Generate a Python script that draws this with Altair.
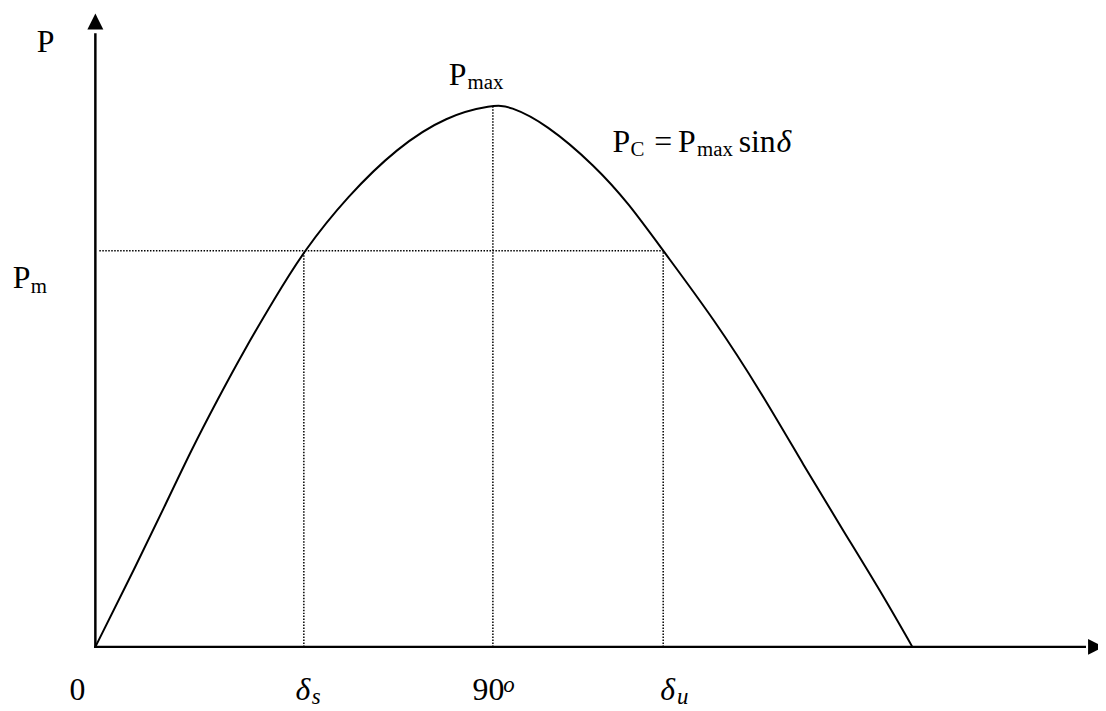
import altair as alt
import pandas as pd

# ---- data (delta in degrees, P in units of Pmax) ----
curve_delta = [0, 9.66, 15.73, 21.80, 27.64, 33.71, 40.46, 47.20, 57.09, 68.32, 79.56, 90.0,
               93.72, 102.04, 113.27, 120.69, 128.56, 140.25, 150.81, 160.47, 169.46, 177.78, 184.97]
curve_p = [0, 0.1575, 0.2601, 0.3645, 0.4560, 0.5476, 0.6410, 0.7308, 0.8315, 0.9212, 0.9799, 1.0,
           0.9982, 0.9652, 0.8864, 0.8187, 0.7308, 0.6026, 0.4689, 0.3333, 0.2125, 0.1026, 0]

delta_s = 47.2
delta_90 = 90.0
delta_u = 128.56
p_m = 0.731
p_max = 1.0

# plot extents
x_max = 227.0
y_max = 1.1685
x_arrow = 228.35

FONT = "Liberation Serif"

xs = alt.Scale(domain=[0, x_max], nice=False, zero=False)
ys = alt.Scale(domain=[0, y_max], nice=False, zero=False)

curve_df = pd.DataFrame({"x": curve_delta, "y": curve_p})

curve = alt.Chart(curve_df).mark_line(
    color="black", strokeWidth=2, interpolate="basis"
).encode(
    x=alt.X("x:Q", scale=xs, axis=None),
    y=alt.Y("y:Q", scale=ys, axis=None),
)

dotted_df = pd.DataFrame({
    "x": [0.9, delta_s, delta_90, delta_u],
    "x2": [delta_u, delta_s, delta_90, delta_u],
    "y": [p_m, 0, 0, 0],
    "y2": [p_m, p_m, p_max, p_m],
})
dotted = alt.Chart(dotted_df).mark_rule(
    color="black", strokeWidth=1.5, strokeDash=[1.5, 1.5]
).encode(
    x=alt.X("x:Q", scale=xs, axis=None), x2="x2:Q",
    y=alt.Y("y:Q", scale=ys, axis=None), y2="y2:Q",
)

axes_df = pd.DataFrame({"x": [0, 0], "x2": [224.0, 0], "y": [0, 0], "y2": [0, 1.13]})
axes_lines = alt.Chart(axes_df).mark_rule(
    color="black", strokeWidth=2.5, strokeCap="square"
).encode(
    x=alt.X("x:Q", scale=xs, axis=None), x2="x2:Q",
    y=alt.Y("y:Q", scale=ys, axis=None), y2="y2:Q",
)

arrow_up = alt.Chart(pd.DataFrame({"x": [0], "y": [y_max]})).mark_point(
    shape="M0,0L1,2L-1,2Z", filled=True, size=256, color="black", opacity=1, strokeWidth=0
).encode(x=alt.X("x:Q", scale=xs, axis=None), y=alt.Y("y:Q", scale=ys, axis=None))

arrow_right = alt.Chart(pd.DataFrame({"x": [x_arrow], "y": [0]})).mark_point(
    shape="M0,0L-2,-1L-2,1Z", filled=True, size=256, color="black", opacity=1, strokeWidth=0
).encode(x=alt.X("x:Q", scale=xs, axis=None), y=alt.Y("y:Q", scale=ys, axis=None))

# ---- text annotations ----
main_text = pd.DataFrame({
    "x": [-13.26, 80.01, 117.10, 126.54, 131.93, 145.64, -18.72, -5.84, 85.41],
    "y": [1.0971, 1.0366, 0.9139, 0.9139, 0.9139, 0.9139, 0.6612, -0.0971, -0.0989],
    "t": ["P", "P", "P", "=", "P", "sin", "P", "0", "90"],
})
sub_text = pd.DataFrame({
    "x": [84.28, 121.14, 136.20, -14.61],
    "y": [1.0293, 0.9048, 0.9048, 0.6520],
    "t": ["max", "C", "max", "m"],
})
ital_text = pd.DataFrame({
    "x": [154.19, 45.33, 127.88],
    "y": [0.9139, -0.0971, -0.0989],
    "t": ["δ", "δ", "δ"],
})
ital_sub = pd.DataFrame({
    "x": [48.99, 131.70, 92.37],
    "y": [-0.1062, -0.1062, -0.0824],
    "t": ["s", "u", "o"],
})


def text_layer(df, size, style="normal"):
    return alt.Chart(df).mark_text(
        font=FONT, fontSize=size, fontStyle=style, align="left",
        baseline="alphabetic", color="black"
    ).encode(
        x=alt.X("x:Q", scale=xs, axis=None),
        y=alt.Y("y:Q", scale=ys, axis=None),
        text="t:N",
    )


chart = alt.layer(
    dotted,
    curve,
    axes_lines,
    arrow_up,
    arrow_right,
    text_layer(main_text, 32),
    text_layer(sub_text, 21),
    text_layer(ital_text, 32, "italic"),
    text_layer(ital_sub, 23, "italic"),
).properties(
    width=1010,
    height=638,
    autosize=alt.AutoSizeParams(type="none"),
    padding={"left": 88, "top": 3, "right": 0, "bottom": 59},
    background="white",
).configure_view(stroke=None)

chart.save("out.html", embed_options={"renderer": "svg", "actions": False})
